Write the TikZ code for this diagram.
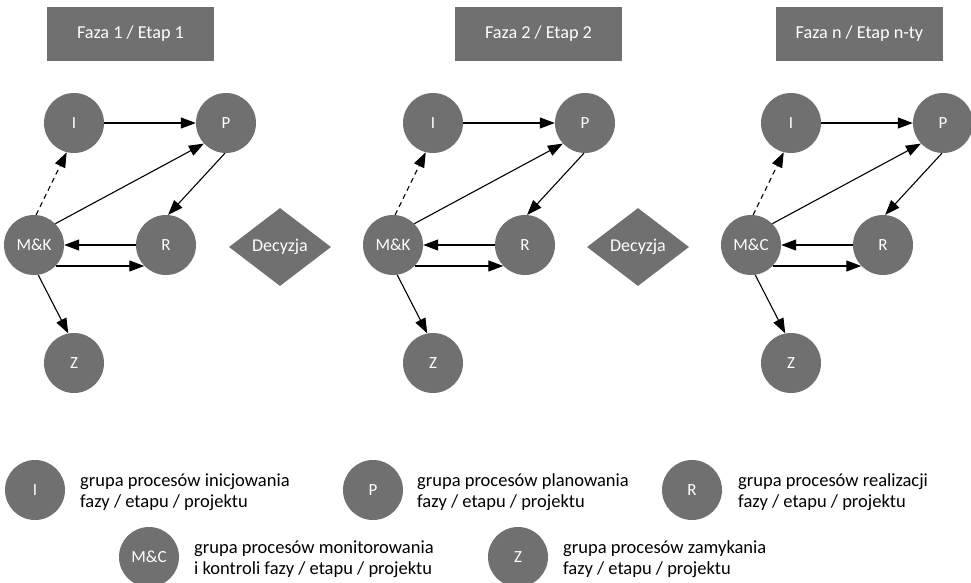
\documentclass[tikz,border=0pt]{standalone}
\usepackage{fontspec}
\setmainfont{Carlito}
\usetikzlibrary{arrows.meta,shapes.geometric}

\definecolor{procgray}{RGB}{112,112,112}

\tikzset{
  proc/.style={circle, fill=procgray, draw=none, minimum size=60pt, inner sep=0pt,
    text=white, font=\fontsize{17}{20}\selectfont},
  phasebox/.style={rectangle, fill=procgray, minimum width=167pt, minimum height=54pt,
    inner sep=0pt, text=white, font=\fontsize{18.2}{20}\selectfont},
  decision/.style={diamond, fill=procgray, aspect=1.31, minimum width=102pt,
    minimum height=78pt, inner sep=0pt, text=white, font=\fontsize{18}{20}\selectfont},
  flow/.style={line width=1.1pt, -{Triangle[length=15pt,width=11pt]}},
  weakflow/.style={flow, dash pattern=on 5pt off 4pt},
  legendtext/.style={anchor=west, align=left, inner sep=0pt,
    font=\fontsize{18.5}{21.5}\selectfont}
}

% One phase: process groups and the flows between them.
% #1 horizontal shift, #2 name suffix, #3 label of the monitoring node
\newcommand\phasegraph[3]{%
  \begin{scope}[xshift=#1]
    \node[proc] (I#2)  at (74,123)  {I};
    \node[proc] (P#2)  at (226,123) {P};
    \node[proc] (MK#2) at (34,245)  {#3};
    \node[proc] (R#2)  at (166,245) {R};
    \node[proc] (Z#2)  at (74,363)  {Z};
    \draw[flow] (I#2) -- (P#2);
    \draw[weakflow] (MK#2.86) -- (I#2.-104);
    \draw[flow] (MK#2.45) -- (P#2.-137);
    \draw[flow] (P#2.-92) -- (R#2.86);
    \draw[flow] (R#2.west) -- (MK#2.east);
    \draw[flow] (MK#2.-44) -- (R#2.-136);
    \draw[flow] (MK#2.-82) -- (Z#2.101);
  \end{scope}%
}

\begin{document}
\begin{tikzpicture}[x=1pt, y=-1pt]
  \useasboundingbox[fill=white] (0,0) rectangle (971,582);

  % phase headers
  \node[phasebox] (h1) at (130.5,34) {Faza 1 / Etap 1};
  \node[phasebox] (h2) at (538.5,34) {Faza 2 / Etap 2};
  \node[phasebox] (h3) at (859.5,34) {Faza n / Etap n-ty};

  % phases
  \phasegraph{0}{a}{M\&K}
  \phasegraph{359}{b}{M\&K}
  \phasegraph{717}{c}{M\&C}

  % decisions between phases
  \node[decision] (d1) at (280,247) {Decyzja};
  \node[decision] (d2) at (638,247) {Decyzja};

  % legend
  \node[proc] (lI) at (35,490)  {I};
  \node[legendtext] (tI) at (80,492) {grupa procesów inicjowania\\fazy / etapu / projektu};
  \node[proc] (lP) at (373,490) {P};
  \node[legendtext] (tP) at (417,492) {grupa procesów planowania\\fazy / etapu / projektu};
  \node[proc] (lR) at (692,490) {R};
  \node[legendtext] (tR) at (738,492) {grupa procesów realizacji\\fazy / etapu / projektu};
  \node[proc] (lM) at (149,557) {M\&C};
  \node[legendtext] (tM) at (194,559) {grupa procesów monitorowania\\i kontroli fazy / etapu / projektu};
  \node[proc] (lZ) at (518,557) {Z};
  \node[legendtext] (tZ) at (563,559) {grupa procesów zamykania\\fazy / etapu / projektu};
\end{tikzpicture}
\end{document}
